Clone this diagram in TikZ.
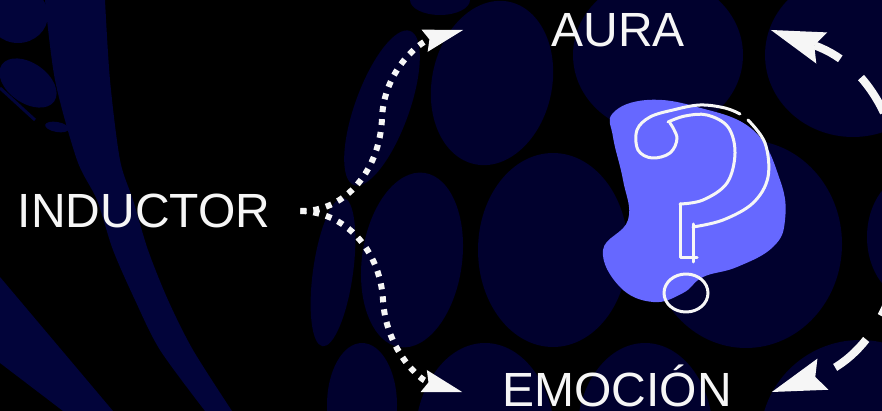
\documentclass[tikz,border=0pt]{standalone}
\usepackage{fontspec}
\setmainfont{Liberation Sans}
\usetikzlibrary{arrows.meta}

\definecolor{inknavy}{RGB}{1,1,46}
\definecolor{bladenavy}{RGB}{2,4,58}
\definecolor{blobblue}{RGB}{102,104,255}
\definecolor{chalk}{RGB}{246,246,246}

\tikzset{
  word/.style={text=chalk, font=\fontsize{48}{50}\selectfont, inner sep=0pt, text depth=0pt, anchor=base},
  dotpath/.style={draw=chalk, line width=6pt, dash pattern=on 6pt off 7pt,
    -{Stealth[length=40pt,width=23pt,inset=5pt,line width=0pt]}},
  cycledash/.style={draw=chalk, line width=8pt, dash pattern=on 42pt off 28pt, dash phase=48pt,
    {Stealth[length=54pt,width=33pt,inset=8pt,line width=0pt]}-{Stealth[length=54pt,width=33pt,inset=8pt,line width=0pt]}},
  chalkline/.style={draw=chalk, line width=3pt, line cap=round, line join=round},
}

\begin{document}
\begin{tikzpicture}[x=1pt,y=-1pt]

\fill [black] (0,0) rectangle (882,411);
\useasboundingbox (0,0) rectangle (882,411);

% LEFT BLADES
\fill [bladenavy] plot[smooth] coordinates {(45,0) (55,80) (77,160) (97,200) (113,250) (135,300) (160,350) (205,411)}
  -- plot[smooth] coordinates {(232,411) (193,350) (168,300) (148,250) (133,200) (120,160) (110,80) (105,0)} -- cycle;
\fill [bladenavy] (0,277) -- (113,411) -- (63,411) -- (0,363) -- cycle;
\fill [bladenavy] (18,15) ellipse [x radius=30pt, y radius=28pt];
\fill [bladenavy, rotate around={-35:(28,83)}] (28,83) ellipse [x radius=32pt, y radius=20pt];
\draw [bladenavy, line width=3pt] (0,88) -- (35,120);
\fill [bladenavy, rotate around={-10:(57,127)}] (57,127) ellipse [x radius=12pt, y radius=5pt];

% BUBBLES
\fill [inknavy] (440,0) ellipse [x radius=30pt, y radius=15pt];
\fill [inknavy, rotate around={-12:(492,83)}] (492,83) ellipse [x radius=60pt, y radius=83pt];
\fill [inknavy] (658,55) ellipse [x radius=85pt, y radius=78pt];
\fill [inknavy] (853,55) ellipse [x radius=88pt, y radius=82pt];
\fill [inknavy, rotate around={-20:(382,108)}] (382,108) ellipse [x radius=27pt, y radius=82pt];
\fill [inknavy, rotate around={-8:(333,272)}] (333,272) ellipse [x radius=20pt, y radius=75pt];
\fill [inknavy, rotate around={-8:(412,260)}] (412,260) ellipse [x radius=50pt, y radius=88pt];
\fill [inknavy] (553,250) ellipse [x radius=75pt, y radius=97pt];
\fill [inknavy] (746,244) ellipse [x radius=96pt, y radius=104pt];
\fill [inknavy] (912,237) ellipse [x radius=45pt, y radius=62pt];
\fill [inknavy] (362,405) ellipse [x radius=35pt, y radius=62pt];
\fill [inknavy] (485,440) ellipse [x radius=70pt, y radius=97pt];
\fill [inknavy] (645,435) ellipse [x radius=68pt, y radius=92pt];
\fill [inknavy] (860,440) ellipse [x radius=100pt, y radius=100pt];

% QUESTION BLOB
\fill [blobblue] plot[smooth cycle, tension=0.7] coordinates {
  (613,113) (647,100) (697,107) (753,130) (780,180) (785,220) (773,247)
  (737,267) (703,277) (683,293) (653,302) (620,287) (603,250) (628,220)
  (623,180) (613,137)};
\draw [chalkline] plot[smooth, tension=0.6] coordinates {
  (670,123) (677,138) (670,153) (652,158) (638,150) (637,130) (650,117)
  (673,110) (700,105) (725,108) (740,114)};
\draw [chalkline] plot[smooth, tension=0.6] coordinates {
  (748,120) (765,143) (768,177) (753,203) (723,220) (693,227)};
\draw [chalkline] plot[smooth, tension=0.6] coordinates {
  (668,122) (685,116) (707,115) (728,127) (735,153) (727,183) (703,200) (680,204)};
\draw [chalkline] (680,204) -- (680,258) -- (697,258);
\draw [chalkline] (693,224) -- (693,262);
\draw [chalkline] (686,293) ellipse [x radius=22pt, y radius=19pt];

% LABELS
\node [word] (inductor) at (144,228) {INDUCTOR};
\node [word] (aura) at (618,47) {AURA};
\node [word] (emocion) at (617,406) {EMOCIÓN};

\coordinate (src) at ([xshift=30pt, yshift=17pt]inductor.base east);
\coordinate (auraIn) at ([xshift=-88pt, yshift=17pt]aura.base west);
\coordinate (emoIn) at ([xshift=-40pt, yshift=14pt]emocion.base west);
\coordinate (auraOut) at ([xshift=86pt, yshift=17pt]aura.base east);
\coordinate (emoOut) at ([xshift=40pt, yshift=14pt]emocion.base east);

% ARROWS
\draw [dotpath] (src) .. controls +(45,1) and (380,170) .. (382,118)
  .. controls (384,70) and (420,42) .. (auraIn);
\draw [dotpath] (src) .. controls +(45,1) and (380,250) .. (383,300)
  .. controls (386,350) and (420,380) .. (emoIn);
\draw [cycledash] (emoOut) .. controls (935,335) and (935,88) .. (auraOut);

\end{tikzpicture}
\end{document}
